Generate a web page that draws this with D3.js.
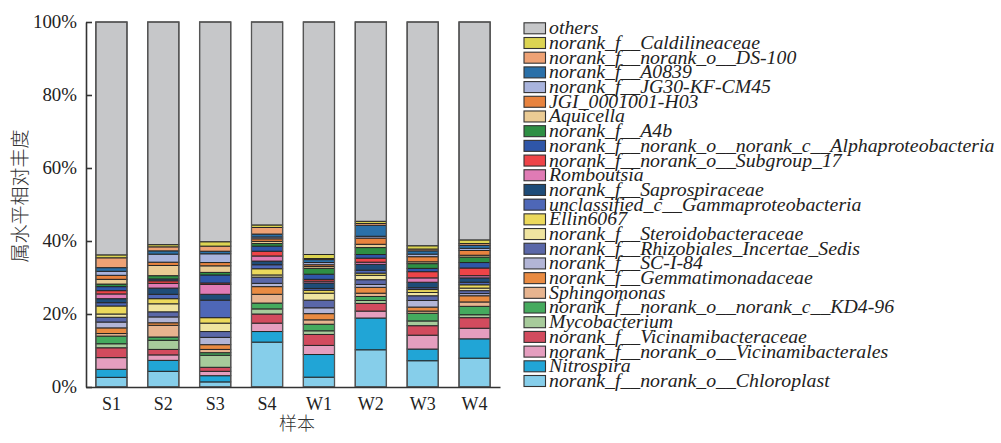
<!DOCTYPE html>
<html>
<head>
<meta charset="utf-8">
<script src="https://cdn.jsdelivr.net/npm/d3@7"></script>
<style>
  html, body { margin: 0; padding: 0; background: #fff; }
  svg { display: block; }
  .serif { font-family: "Liberation Serif", "Times New Roman", serif; }
</style>
</head>
<body>
<svg id="chart" width="1001" height="443"></svg>
<script>
// Samples along the x axis
const samples = ["S1", "S2", "S3", "S4", "W1", "W2", "W3", "W4"];

// Genus names, in legend order (top of the stack first)
const genera = [
  "others",
  "norank_f__Caldilineaceae",
  "norank_f__norank_o__DS-100",
  "norank_f__A0839",
  "norank_f__JG30-KF-CM45",
  "JGI_0001001-H03",
  "Aquicella",
  "norank_f__A4b",
  "norank_f__norank_o__norank_c__Alphaproteobacteria",
  "norank_f__norank_o__Subgroup_17",
  "Romboutsia",
  "norank_f__Saprospiraceae",
  "unclassified_c__Gammaproteobacteria",
  "Ellin6067",
  "norank_f__Steroidobacteraceae",
  "norank_f__Rhizobiales_Incertae_Sedis",
  "norank_f__SC-I-84",
  "norank_f__Gemmatimonadaceae",
  "Sphingomonas",
  "norank_f__norank_o__norank_c__KD4-96",
  "Mycobacterium",
  "norank_f__Vicinamibacteraceae",
  "norank_f__norank_o__Vicinamibacterales",
  "Nitrospira",
  "norank_f__norank_o__Chloroplast"
];

// Fill colour of each genus (same order as genera)
const colors = [
  "#c6c7c9", "#dcd452", "#eea275", "#2a70a8", "#a9b4dd",
  "#e8833e", "#eacb94", "#2e8f44", "#2f56a8", "#ee4448",
  "#e07bb5", "#1e4c78", "#4e67b7", "#ecd95c", "#efe4a0",
  "#5a67a8", "#b2b5d6", "#e98b42", "#e7b48f", "#45aa5e",
  "#a7cb9b", "#d24b5e", "#e59ebf", "#21a5d6", "#86ceea"
];

// Relative abundance (%) of each genus in S1..S4, W1..W4
const others           = [63.8, 61.0, 60.2, 55.6, 63.7, 54.6, 61.3, 59.7];
const caldilineaceae   = [0.8, 0.6, 1.2, 0.7, 1.1, 0.6, 0.9, 1.0];
const ds100            = [2.7, 1.1, 1.4, 1.8, 0.3, 0.5, 0.5, 0.5];
const a0839            = [1.0, 0.9, 0.7, 0.8, 0.8, 3.0, 0.9, 0.8];
const jg30             = [1.1, 2.2, 2.4, 0.5, 0.6, 0.5, 0.7, 0.6];
const jgi0001001       = [1.1, 0.9, 0.9, 0.7, 0.5, 1.7, 1.4, 1.3];
const aquicella        = [1.3, 2.8, 1.8, 0.6, 0.5, 0.9, 0.5, 0.5];
const a4b              = [0.7, 0.9, 0.7, 0.7, 1.6, 1.9, 1.3, 1.5];
const alphaproteo      = [1.1, 0.5, 2.2, 1.4, 1.4, 1.0, 0.9, 1.5];
const subgroup17       = [0.9, 0.7, 0.4, 1.3, 0.5, 1.1, 1.7, 2.1];
const romboutsia       = [1.3, 1.3, 2.7, 1.4, 0.5, 0.6, 1.2, 0.6];
const saprospiraceae   = [1.1, 1.7, 1.6, 1.0, 1.5, 1.6, 1.5, 1.2];
const gammaproteo      = [0.9, 1.2, 4.8, 1.1, 0.5, 0.8, 0.5, 0.7];
const ellin6067        = [2.2, 1.4, 1.5, 1.7, 0.8, 0.6, 0.8, 0.9];
const steroidobact     = [0.9, 2.2, 2.3, 0.6, 1.9, 1.2, 0.9, 0.7];
const rhizobiales      = [1.3, 1.4, 1.6, 1.7, 2.1, 1.3, 1.3, 0.8];
const sci84            = [1.6, 1.6, 2.0, 0.9, 1.6, 0.8, 1.8, 0.6];
const gemmatimonad     = [1.55, 0.7, 1.3, 2.1, 1.7, 1.6, 1.1, 1.7];
const sphingomonas     = [0.7, 3.2, 0.9, 2.4, 1.2, 0.9, 0.6, 1.2];
const kd496            = [2.1, 0.9, 0.7, 1.6, 1.8, 1.1, 2.1, 2.3];
const mycobacterium    = [1.1, 2.5, 3.3, 1.4, 1.0, 0.8, 1.3, 0.8];
const vicinamibacteraceae = [2.7, 1.5, 1.1, 2.5, 3.0, 2.1, 2.6, 2.9];
const vicinamibacterales  = [3.2, 1.5, 1.2, 2.3, 2.5, 1.9, 3.8, 2.9];
const nitrospira       = [2.2, 3.0, 1.7, 2.9, 6.2, 8.7, 3.2, 5.3];
const chloroplast      = [2.65, 4.3, 1.4, 12.3, 2.7, 10.2, 7.2, 7.9];

// Series in legend order, matching genera
const series = [
  others, caldilineaceae, ds100, a0839, jg30, jgi0001001, aquicella, a4b,
  alphaproteo, subgroup17, romboutsia, saprospiraceae, gammaproteo, ellin6067,
  steroidobact, rhizobiales, sci84, gemmatimonad, sphingomonas, kd496,
  mycobacterium, vicinamibacteraceae, vicinamibacterales, nitrospira, chloroplast
];

const yTicks = [0, 20, 40, 60, 80, 100];
const xTitle = "样本";
const yTitle = "属水平相对丰度";

// Rows for d3.stack: one per sample, one key per genus
const rows = samples.map((s, i) => {
  const r = { sample: s };
  genera.forEach((g, k) => { r[g] = series[k][i]; });
  return r;
});

// Stack from the bottom (last legend entry) upward
const stackKeys = genera.slice().reverse();
const stacked = d3.stack().keys(stackKeys)(rows);
const color = d3.scaleOrdinal().domain(genera).range(colors);

const svg = d3.select("#chart");

const x = d3.scaleBand()
  .domain(samples)
  .range([86, 500])
  .paddingInner(0.4)
  .paddingOuter(0.19);

const y = d3.scaleLinear().domain([0, 100]).range([387, 22]);

// Bars
const layer = svg.append("g")
  .selectAll("g")
  .data(stacked)
  .join("g")
  .attr("fill", d => color(d.key));

layer.selectAll("rect")
  .data(d => d)
  .join("rect")
  .attr("x", d => x(d.data.sample))
  .attr("width", x.bandwidth())
  .attr("y", d => y(d[1]))
  .attr("height", d => y(d[0]) - y(d[1]))
  .attr("stroke", "#262626")
  .attr("stroke-width", 1);

// Bar outlines
svg.append("g")
  .selectAll("rect")
  .data(samples)
  .join("rect")
  .attr("x", d => x(d))
  .attr("width", x.bandwidth())
  .attr("y", y(100))
  .attr("height", y(0) - y(100))
  .attr("fill", "none")
  .attr("stroke", "#555")
  .attr("stroke-width", 1.3);

// Y axis with inward ticks
const yAxis = svg.append("g")
  .attr("transform", "translate(86,0)")
  .call(d3.axisLeft(y).tickValues(yTicks).tickSize(-6).tickSizeOuter(0).tickPadding(9)
    .tickFormat(d => d + "%"));
yAxis.select(".domain").attr("stroke", "#333").attr("stroke-width", 1.6);
yAxis.selectAll(".tick line").attr("stroke", "#333").attr("stroke-width", 1.6);
yAxis.selectAll(".tick text")
  .attr("class", "serif")
  .attr("fill", "#222")
  .style("font-size", "18px")
  .attr("transform", "scale(1.05,1)")
  .attr("x", -9 / 1.05);

// X axis
const xAxis = svg.append("g")
  .attr("transform", "translate(0,387)")
  .call(d3.axisBottom(x).tickSize(0).tickPadding(10));
xAxis.select(".domain").attr("stroke", "#333").attr("stroke-width", 1.6);
xAxis.selectAll(".tick text")
  .attr("class", "serif")
  .attr("fill", "#222")
  .style("font-size", "18px");

// Axis titles
svg.append("text")
  .attr("x", 297)
  .attr("y", 430)
  .attr("text-anchor", "middle")
  .attr("fill", "#333")
  .style("font-family", "'Noto Sans CJK SC', sans-serif")
  .style("font-weight", 300)
  .style("font-size", "18px")
  .text(xTitle);

svg.append("text")
  .attr("transform", "translate(27,196) rotate(-90)")
  .attr("text-anchor", "middle")
  .attr("fill", "#333")
  .style("font-family", "'Noto Sans CJK SC', sans-serif")
  .style("font-weight", 300)
  .style("font-size", "19px")
  .text(yTitle);

// Legend
const legendRow = d3.scaleLinear().domain([0, genera.length - 1]).range([28.3, 381]);
const legend = svg.append("g")
  .selectAll("g")
  .data(genera)
  .join("g")
  .attr("transform", (d, i) => `translate(524,${legendRow(i)})`);

legend.append("rect")
  .attr("x", 0)
  .attr("y", -5.5)
  .attr("width", 21.5)
  .attr("height", 11)
  .attr("fill", d => color(d))
  .attr("stroke", "#333")
  .attr("stroke-width", 1.1);

legend.append("text")
  .attr("class", "serif")
  .attr("transform", "translate(25,0) scale(1.1,1)")
  .attr("dy", "0.33em")
  .attr("fill", "#222")
  .style("font-size", "18px")
  .style("font-style", "italic")
  .text(d => d);
</script>
</body>
</html>
